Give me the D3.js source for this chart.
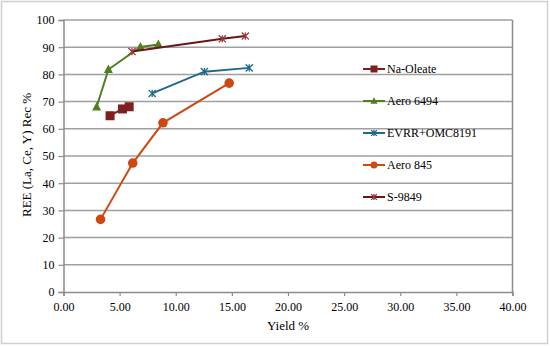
<!DOCTYPE html>
<html>
<head>
<meta charset="UTF-8">
<script src="https://cdn.jsdelivr.net/npm/d3@7"></script>
<style>
  body { margin: 0; background: #fff; }
  svg, svg text { font-family: 'Times New Roman', 'Liberation Serif', 'DejaVu Serif', serif !important; }
</style>
</head>
<body>
<div id="chart"></div>
<script>
// series data: [yield %, recovery %]
var naOleate = [[4.15, 64.8], [5.25, 67.3], [5.85, 68.1]];
var aero6494 = [[2.95, 68.0], [4.0, 81.8], [6.85, 90.1], [8.45, 91.0]];
var evrr = [[7.9, 73.0], [12.55, 81.0], [16.55, 82.4]];
var aero845 = [[3.3, 26.7], [6.17, 47.4], [8.86, 62.2], [14.76, 76.8]];
var s9849 = [[6.1, 88.4], [14.15, 93.1], [16.2, 94.1]];

var seriesNames = ['Na-Oleate', 'Aero 6494', 'EVRR+OMC8191', 'Aero 845', 'S-9849'];
var xTicks = [0, 5, 10, 15, 20, 25, 30, 35, 40];
var yTicks = [0, 10, 20, 30, 40, 50, 60, 70, 80, 90, 100];

var series = [
  {name: seriesNames[0], data: naOleate, color: '#7f1f1f', mark: 'square', mcolor: '#7f1f1f'},
  {name: seriesNames[1], data: aero6494, color: '#4f7f1f', mark: 'triangle', mcolor: '#4f7f1f'},
  {name: seriesNames[2], data: evrr, color: '#1f6a8c', mark: 'star', mcolor: '#1f6a8c'},
  {name: seriesNames[3], data: aero845, color: '#cc4a12', mark: 'circle', mcolor: '#cc4a12'},
  {name: seriesNames[4], data: s9849, color: '#6b1515', mark: 'star', mcolor: '#9b3a3a'}
];

var W = 550, H = 347;
var mLeft = 63.5, mRight = 512.5, mTop = 20, mBottom = 292;

var svg = d3.select('#chart').append('svg')
    .attr('width', W).attr('height', H);

// outer frame
svg.append('rect')
    .attr('x', 1.5).attr('y', 1.5)
    .attr('width', W - 4).attr('height', H - 5)
    .attr('fill', '#fff').attr('stroke', '#d0d0d0').attr('stroke-width', 1.5);

var x = d3.scaleLinear().domain([0, 40]).range([mLeft, mRight]);
var y = d3.scaleLinear().domain([0, 100]).range([mBottom, mTop]);

// gridlines
svg.append('g').selectAll('line')
    .data(yTicks.filter(function(d){ return d > 0; }))
    .enter().append('line')
    .attr('x1', mLeft).attr('x2', mRight)
    .attr('y1', function(d){ return y(d); })
    .attr('y2', function(d){ return y(d); })
    .attr('stroke', '#a0a0a0').attr('stroke-width', 1.5);

// right border
svg.append('line')
    .attr('x1', mRight).attr('x2', mRight).attr('y1', mTop).attr('y2', mBottom)
    .attr('stroke', '#8c8c8c').attr('stroke-width', 1.5);

var xAxis = svg.append('g')
    .attr('transform', 'translate(0,' + mBottom + ')')
    .call(d3.axisBottom(x).tickValues(xTicks).tickSize(4).tickPadding(6)
        .tickFormat(function(d){ return d.toFixed(2); }));
var yAxis = svg.append('g')
    .attr('transform', 'translate(' + mLeft + ',0)')
    .call(d3.axisLeft(y).tickValues(yTicks).tickSize(5).tickPadding(4));

[xAxis, yAxis].forEach(function(a){
  a.attr('font-family', null).attr('font-size', 12);
  a.select('.domain').attr('stroke', '#8c8c8c').attr('stroke-width', 1.5);
  a.selectAll('.tick line').attr('stroke', '#8c8c8c').attr('stroke-width', 1.2);
  a.selectAll('text').attr('fill', '#000');
});

svg.append('text')
    .attr('x', (mLeft + mRight) / 2).attr('y', 330)
    .attr('text-anchor', 'middle').attr('font-size', 13)
    .text('Yield %');
svg.append('text')
    .attr('transform', 'translate(31,' + 155 + ') rotate(-90)')
    .attr('text-anchor', 'middle').attr('font-size', 13)
    .text('REE (La, Ce, Y) Rec %');

function drawMark(g, type, cx, cy, color, s) {
  if (type === 'square') {
    g.append('rect').attr('x', cx - s).attr('y', cy - s)
        .attr('width', 2 * s).attr('height', 2 * s).attr('fill', color);
  } else if (type === 'triangle') {
    g.append('path')
        .attr('d', 'M' + cx + ',' + (cy - s * 1.1) + 'L' + (cx + s) + ',' + (cy + s * 0.75) + 'L' + (cx - s) + ',' + (cy + s * 0.75) + 'Z')
        .attr('fill', color);
  } else if (type === 'circle') {
    g.append('circle').attr('cx', cx).attr('cy', cy).attr('r', s).attr('fill', color);
  } else if (type === 'star') {
    var k = s * 0.9;
    g.append('path')
        .attr('d', 'M' + (cx - k) + ',' + (cy - k) + 'L' + (cx + k) + ',' + (cy + k) +
            'M' + (cx - k) + ',' + (cy + k) + 'L' + (cx + k) + ',' + (cy - k) +
            'M' + cx + ',' + (cy - k) + 'L' + cx + ',' + (cy + k))
        .attr('stroke', color).attr('stroke-width', 1.3).attr('fill', 'none');
  }
}

var line = d3.line()
    .x(function(d){ return x(d[0]); })
    .y(function(d){ return y(d[1]); });

var sizes = {square: 4.5, triangle: 4.5, circle: 4.8, star: 4};

series.forEach(function(s){
  var g = svg.append('g');
  g.append('path').datum(s.data).attr('d', line)
      .attr('fill', 'none').attr('stroke', s.color).attr('stroke-width', 2);
  s.data.forEach(function(d){
    drawMark(g, s.mark, x(d[0]), y(d[1]), s.mcolor, sizes[s.mark]);
  });
});

// legend
var legY = [69, 101, 133, 165, 197];
series.forEach(function(s, i){
  var g = svg.append('g');
  g.append('line').attr('x1', 363).attr('x2', 385)
      .attr('y1', legY[i]).attr('y2', legY[i])
      .attr('stroke', s.color).attr('stroke-width', 2);
  drawMark(g, s.mark, 374, legY[i], s.mcolor, s.mark === 'star' ? 3.2 : 3.5);
  g.append('text').attr('x', 387).attr('y', legY[i] + 4)
      .attr('font-size', 12).text(s.name);
});
</script>
</body>
</html>
